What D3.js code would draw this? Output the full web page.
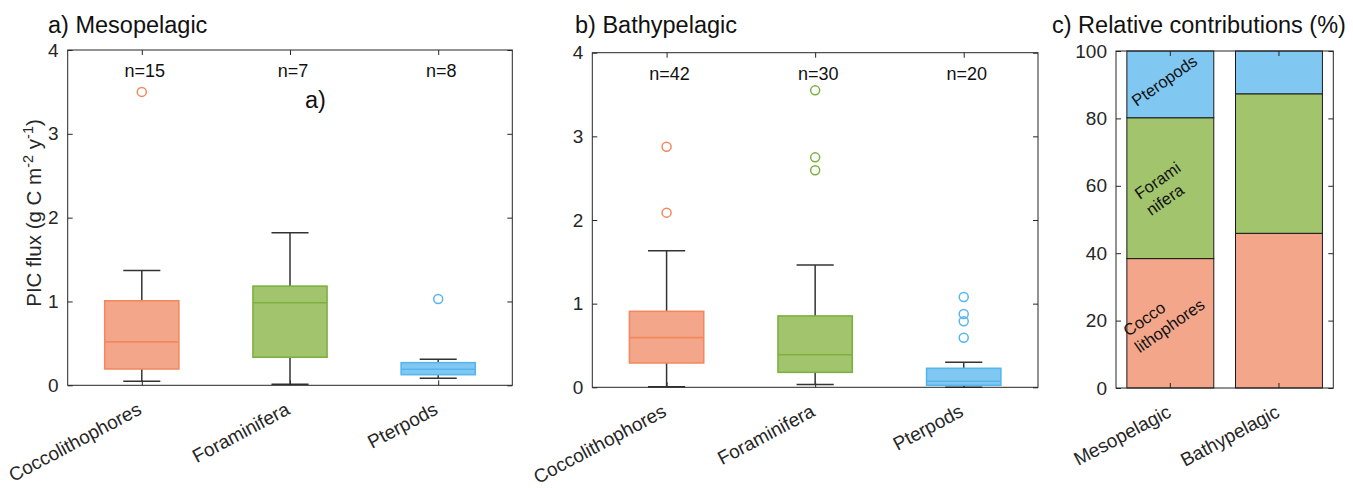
<!DOCTYPE html>
<html><head><meta charset="utf-8">
<script src="https://cdn.jsdelivr.net/npm/d3@7"></script>
<style>body{margin:0;background:#fff}svg{display:block;font-family:"Liberation Sans",Arial,Helvetica,sans-serif}</style>
</head><body><svg id="c" width="1353" height="488"></svg>
<script>
// ---------- data ----------
const categories = ["Coccolithophores", "Foraminifera", "Pterpods"];
const yTicksFlux = [0, 1, 2, 3, 4];

const mesoLow    = [0.048, 0.012, 0.084];
const mesoQ1     = [0.195, 0.335, 0.127];
const mesoMedian = [0.518, 0.984, 0.191];
const mesoQ3     = [1.008, 1.183, 0.270];
const mesoHigh   = [1.370, 1.820, 0.310];
const mesoOutliers = [[3.50], [], [1.03]];
const mesoN = [15, 7, 8];

const bathyLow    = [0.008, 0.032, 0.000];
const bathyQ1     = [0.291, 0.179, 0.024];
const bathyMedian = [0.594, 0.390, 0.072];
const bathyQ3     = [0.908, 0.853, 0.227];
const bathyHigh   = [1.633, 1.462, 0.300];
const bathyOutliers = [[2.876, 2.088], [3.55, 2.749, 2.594], [1.08, 0.876, 0.789, 0.593]];
const bathyN = [42, 30, 20];

const zones = ["Mesopelagic", "Bathypelagic"];
const relCocco = [38.4, 45.9];
const relForam = [41.8, 41.4];
const relPtero = [19.8, 12.7];
const yTicksRel = [0, 20, 40, 60, 80, 100];
const relLabels = [["Pteropods"], ["Forami", "nifera"], ["Cocco", "lithophores"]];

// ---------- styles ----------
const fills   = ["#F4A68A", "#A2C46C", "#80C8F2"];
const strokes = ["#F2895E", "#7CB040", "#55B6EE"];
const axisCol = "#262626";
const FT = 23.5, FTICK = 19, FX = 19, FN = 18, ROT = -28;
const svg = d3.select("#c");

function frame(g, x0, x1, y0, y1) {
  g.append("rect").attr("x", x0).attr("y", y0).attr("width", x1 - x0).attr("height", y1 - y0)
    .attr("fill", "none").attr("stroke", axisCol).attr("stroke-width", 1);
}

function boxPanel(opt) {
  const {x0, x1, y0, y1, low, q1, med, q3, high, outl, n, title, tx} = opt;
  const g = svg.append("g");
  const x = d3.scalePoint().domain(categories).range([x0, x1]).padding(0.5);
  const step = x.step();
  const y = d3.scaleLinear().domain([0, 4]).range([y1, y0]);
  const bw = step * 0.5, cw = step * 0.25, tl = 5;

  const ax = g.append("g").attr("transform", `translate(0,${y1})`)
    .call(d3.axisBottom(x).tickSizeInner(-tl).tickSizeOuter(0).tickFormat(""));
  ax.select(".domain").remove();
  ax.selectAll("line").attr("stroke", axisCol);
  const axT = g.append("g").attr("transform", `translate(0,${y0})`)
    .call(d3.axisTop(x).tickSizeInner(-tl).tickSizeOuter(0).tickFormat(""));
  axT.select(".domain").remove();
  axT.selectAll("line").attr("stroke", axisCol);
  const ay = g.append("g").attr("transform", `translate(${x0},0)`)
    .call(d3.axisLeft(y).tickValues(yTicksFlux).tickSizeInner(-tl).tickSizeOuter(0).tickPadding(9).tickFormat(d3.format("d")));
  ay.select(".domain").remove();
  ay.selectAll("line").attr("stroke", axisCol);
  ay.selectAll("text").attr("font-size", FTICK).attr("fill", axisCol).attr("font-family", null);
  const ayR = g.append("g").attr("transform", `translate(${x1},0)`)
    .call(d3.axisRight(y).tickValues(yTicksFlux).tickSizeInner(-tl).tickSizeOuter(0).tickFormat(""));
  ayR.select(".domain").remove();
  ayR.selectAll("line").attr("stroke", axisCol);

  g.selectAll("text.xl").data(categories).join("text")
    .attr("font-size", FX).attr("fill", axisCol).attr("text-anchor", "end")
    .attr("transform", d => `translate(${x(d) + 1},${y1 + 28}) rotate(${ROT})`)
    .text(d => d);

  categories.forEach((c, i) => {
    const cx = x(c);
    g.append("line").attr("x1", cx).attr("x2", cx).attr("y1", y(high[i])).attr("y2", y(q3[i])).attr("stroke", "#333").attr("stroke-width", 1.5);
    g.append("line").attr("x1", cx).attr("x2", cx).attr("y1", y(q1[i])).attr("y2", y(low[i])).attr("stroke", "#333").attr("stroke-width", 1.5);
    g.append("line").attr("x1", cx - cw / 2).attr("x2", cx + cw / 2).attr("y1", y(high[i])).attr("y2", y(high[i])).attr("stroke", "#333").attr("stroke-width", 1.5);
    g.append("line").attr("x1", cx - cw / 2).attr("x2", cx + cw / 2).attr("y1", y(low[i])).attr("y2", y(low[i])).attr("stroke", "#333").attr("stroke-width", 1.5);
    g.append("rect").attr("x", cx - bw / 2).attr("width", bw).attr("y", y(q3[i])).attr("height", y(q1[i]) - y(q3[i]))
      .attr("fill", fills[i]).attr("stroke", strokes[i]).attr("stroke-width", 1.6);
    g.append("line").attr("x1", cx - bw / 2).attr("x2", cx + bw / 2).attr("y1", y(med[i])).attr("y2", y(med[i]))
      .attr("stroke", strokes[i]).attr("stroke-width", 1.6);
    g.selectAll(null).data(outl[i]).join("circle").attr("cx", cx).attr("cy", d => y(d)).attr("r", 4.5)
      .attr("fill", "none").attr("stroke", strokes[i]).attr("stroke-width", 1.5);
    g.append("text").attr("x", cx + 3).attr("y", y0 + 27).attr("text-anchor", "middle")
      .attr("font-size", FN).attr("fill", "#111").text("n=" + n[i]);
  });
  frame(g, x0, x1, y0, y1);
  svg.append("text").attr("x", tx).attr("y", 33).attr("font-size", FT).attr("fill", "#111").text(title);
  return {g, x, y};
}

const pa = boxPanel({x0: 67.7, x1: 512.3, y0: 50, y1: 385.3, low: mesoLow, q1: mesoQ1, med: mesoMedian, q3: mesoQ3, high: mesoHigh, outl: mesoOutliers, n: mesoN, title: "a) Mesopelagic", tx: 48});
pa.g.append("text").attr("x", 305).attr("y", 108).attr("font-size", FT).attr("fill", "#111").text("a)");

const yl = svg.append("text").attr("transform", "translate(41,213) rotate(-90)").attr("text-anchor", "middle")
  .attr("font-size", 20.5).attr("fill", axisCol);
yl.append("tspan").text("PIC flux (g C m");
yl.append("tspan").attr("dy", -8).attr("font-size", 14.5).text("-2");
yl.append("tspan").attr("dy", 8).text(" y");
yl.append("tspan").attr("dy", -8).attr("font-size", 14.5).text("-1");
yl.append("tspan").attr("dy", 8).text(")");

boxPanel({x0: 592.3, x1: 1038, y0: 52.7, y1: 387.3, low: bathyLow, q1: bathyQ1, med: bathyMedian, q3: bathyQ3, high: bathyHigh, outl: bathyOutliers, n: bathyN, title: "b) Bathypelagic", tx: 575});

// ---------- panel c ----------
(function () {
  const x0 = 1116, x1 = 1333.3, y0 = 51, y1 = 388;
  const g = svg.append("g");
  const x = d3.scaleBand().domain(zones).range([x0, x1]).paddingInner(0.2).paddingOuter(0.1);
  const y = d3.scaleLinear().domain([0, 100]).range([y1, y0]);
  const tl = 5;
  const series = [relCocco, relForam, relPtero];
  zones.forEach((z, j) => {
    let base = 0;
    series.forEach((s, i) => {
      g.append("rect").attr("x", x(z)).attr("width", x.bandwidth())
        .attr("y", y(base + s[j])).attr("height", y(base) - y(base + s[j]))
        .attr("fill", fills[i]).attr("stroke", "#1a1a1a").attr("stroke-width", 1);
      base += s[j];
    });
  });
  const ay = g.append("g").attr("transform", `translate(${x0},0)`)
    .call(d3.axisLeft(y).tickValues(yTicksRel).tickSizeInner(-tl).tickSizeOuter(0).tickPadding(9));
  ay.select(".domain").remove();
  ay.selectAll("line").attr("stroke", axisCol);
  ay.selectAll("text").attr("font-size", FTICK).attr("fill", axisCol).attr("font-family", null);
  const ayR = g.append("g").attr("transform", `translate(${x1},0)`)
    .call(d3.axisRight(y).tickValues(yTicksRel).tickSizeInner(-tl).tickSizeOuter(0).tickFormat(""));
  ayR.select(".domain").remove();
  ayR.selectAll("line").attr("stroke", axisCol);
  const xc = d => x(d) + x.bandwidth() / 2;
  zones.forEach(z => {
    g.append("line").attr("x1", xc(z)).attr("x2", xc(z)).attr("y1", y1).attr("y2", y1 - tl).attr("stroke", axisCol);
    g.append("line").attr("x1", xc(z)).attr("x2", xc(z)).attr("y1", y0).attr("y2", y0 + tl).attr("stroke", axisCol);
  });
  g.selectAll("text.xl").data(zones).join("text")
    .attr("font-size", FX).attr("fill", axisCol).attr("text-anchor", "end")
    .attr("transform", d => `translate(${xc(d) + 2},${y1 + 28}) rotate(${ROT})`)
    .text(d => d);
  frame(g, x0, x1, y0, y1);
  const m = zones[0];
  const bl = x(m);
  const lab = (px, val, lines) => {
    const t = g.append("text").attr("transform", `translate(${bl + px},${y(val)}) rotate(-35)`)
      .attr("font-size", 16.5).attr("fill", "#111");
    lines.forEach((l, k) => t.append("tspan").attr("x", 0).attr("dy", k === 0 ? 0 : 20).text(l));
  };
  lab(10, 83.4, relLabels[0]);
  lab(13, 55.8, relLabels[1]);
  lab(1.5, 15.1, relLabels[2]);
  svg.append("text").attr("x", 1052).attr("y", 33).attr("font-size", FT).attr("fill", "#111").text("c) Relative contributions (%)");
})();
</script></body></html>
